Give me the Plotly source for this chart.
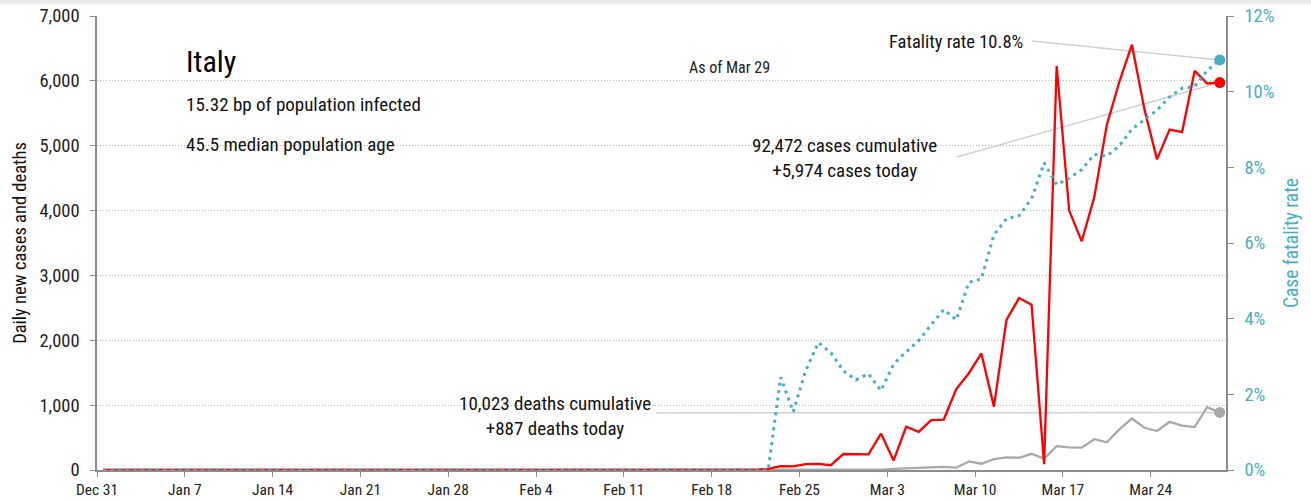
import pandas as pd
import plotly.graph_objects as go

# one value per day, Dec 31 2019 .. Mar 29 2020 (points sit at noon of each day)
days = pd.date_range("2019-12-31 12:00", "2020-03-29 12:00", freq="D")

# daily new cases
new_cases = [
    0,                                          # Dec 31
    0, 0, 0, 0, 0, 0, 0, 0, 0, 0,               # Jan 1-10
    0, 0, 0, 0, 0, 0, 0, 0, 0, 0,               # Jan 11-20
    0, 0, 0, 0, 0, 0, 0, 0, 0, 0, 2,            # Jan 21-31
    0, 0, 0, 0, 0, 0, 1, 0, 0, 0,               # Feb 1-10
    0, 0, 0, 0, 0, 0, 0, 0, 0, 0, 0,            # Feb 11-21
    17, 59, 55, 92, 94, 74, 247, 238,           # Feb 22-29
    240, 561, 146, 667, 587, 769, 778, 1247, 1492, 1797,   # Mar 1-10
    977, 2313, 2651, 2547, 90, 6230, 4000, 3526, 4207, 5322,  # Mar 11-20
    5986, 6557, 5560, 4789, 5249, 5210, 6153, 5959, 5974,     # Mar 21-29
]

# daily deaths
new_deaths = [
    0,
    0, 0, 0, 0, 0, 0, 0, 0, 0, 0,
    0, 0, 0, 0, 0, 0, 0, 0, 0, 0,
    0, 0, 0, 0, 0, 0, 0, 0, 0, 0, 0,
    0, 0, 0, 0, 0, 0, 0, 0, 0, 0,
    0, 0, 0, 0, 0, 0, 0, 0, 0, 0, 0,
    0, 2, 0, 4, 5, 1, 5, 4,
    8, 5, 18, 27, 28, 41, 49, 36, 133, 97,
    168, 196, 189, 250, 175, 368, 349, 345, 475, 427,
    627, 793, 651, 601, 743, 683, 662, 969, 887,
]

# case fatality rate, %
fatality_rate = [
    0,
    0, 0, 0, 0, 0, 0, 0, 0, 0, 0,
    0, 0, 0, 0, 0, 0, 0, 0, 0, 0,
    0, 0, 0, 0, 0, 0, 0, 0, 0, 0, 0,
    0, 0, 0, 0, 0, 0, 0, 0, 0, 0,
    0, 0, 0, 0, 0, 0, 0, 0, 0, 0, 0,
    0, 2.45, 1.54, 2.63, 3.37, 3.10, 2.62, 2.38,
    2.54, 2.10, 2.80, 3.12, 3.42, 3.84, 4.24, 3.97, 4.96, 5.05,
    6.22, 6.64, 6.72, 7.17, 8.12, 7.54, 7.71, 7.94, 8.34, 8.30,
    8.57, 9.01, 9.26, 9.51, 9.86, 10.09, 10.14, 10.56, 10.84,
]

tick_dates = ["2019-12-31", "2020-01-07", "2020-01-14", "2020-01-21", "2020-01-28",
              "2020-02-04", "2020-02-11", "2020-02-18", "2020-02-25", "2020-03-03",
              "2020-03-10", "2020-03-17", "2020-03-24"]
tick_labels = ["Dec 31", "Jan 7", "Jan 14", "Jan 21", "Jan 28", "Feb 4", "Feb 11",
               "Feb 18", "Feb 25", "Mar 3", "Mar 10", "Mar 17", "Mar 24"]

country = "Italy"
as_of = "Mar 29"
bp_infected = 15.32
median_age = 45.5
total_cases = 92472
total_deaths = 10023

FONT = "Roboto Condensed, Liberation Sans Narrow, Liberation Sans, Arial, sans-serif"
RED = "#ff0000"
GREY = "#a9a9a9"
TEAL = "#4bacc6"
LEADER = "#d0d0d0"
AXIS = "#8c8c8c"

fig = go.Figure()

fig.add_trace(go.Scatter(x=days, y=new_deaths, mode="lines",
                         line=dict(color=GREY, width=2.3), hoverinfo="skip"))
fig.add_trace(go.Scatter(x=days, y=new_cases, mode="lines",
                         line=dict(color=RED, width=2.3), hoverinfo="skip"))
fig.add_trace(go.Scatter(x=days, y=fatality_rate, mode="lines", yaxis="y2",
                         line=dict(color=TEAL, width=3, dash="3px,4.5px"), hoverinfo="skip"))

# end markers
fig.add_trace(go.Scatter(x=[days[-1]], y=[new_deaths[-1]], mode="markers",
                         marker=dict(color=GREY, size=11)))
fig.add_trace(go.Scatter(x=[days[-1]], y=[new_cases[-1]], mode="markers",
                         marker=dict(color=RED, size=11)))
fig.add_trace(go.Scatter(x=[days[-1]], y=[fatality_rate[-1]], mode="markers", yaxis="y2",
                         marker=dict(color=TEAL, size=11)))

# leader lines from the labels to the last points
fig.add_shape(type="line", xref="x", yref="y2", layer="below",
              x0="2020-03-14 13:00", y0=11.34, x1=days[-1], y1=fatality_rate[-1],
              line=dict(color=LEADER, width=1.5))
fig.add_shape(type="line", xref="x", yref="y", layer="below",
              x0="2020-03-08 13:00", y0=4826, x1=days[-1], y1=new_cases[-1],
              line=dict(color=LEADER, width=1.5))
fig.add_shape(type="line", xref="x", yref="y", layer="below",
              x0="2020-02-13 14:00", y0=880, x1=days[-1], y1=new_deaths[-1],
              line=dict(color=LEADER, width=1.5))

# thin grey band along the top edge
fig.add_shape(type="rect", xref="paper", yref="paper", x0=-0.09, x1=1.08,
              y0=1.026, y1=1.04, fillcolor="#ececec", line_width=0, layer="below")

txt = dict(showarrow=False, xref="paper", yref="paper", yanchor="middle")
body = dict(family=FONT, color="#111", size=19)
fig.add_annotation(text=country, x=0.0771, y=0.899, xanchor="left",
                   font=dict(family=FONT, color="#000", size=30), **txt)
fig.add_annotation(text=f"{bp_infected} bp of population infected", x=0.0771, y=0.806,
                   xanchor="left", font=body, **txt)
fig.add_annotation(text=f"{median_age} median population age", x=0.0771, y=0.718,
                   xanchor="left", font=body, **txt)
fig.add_annotation(text=f"As of {as_of}", x=0.560, y=0.886, xanchor="center",
                   font=dict(family=FONT, color="#222", size=16), **txt)
fig.add_annotation(text=f"Fatality rate {fatality_rate[-1]:.1f}%", x=0.822, y=0.943,
                   xanchor="right", font=dict(family=FONT, color="#111", size=18.5), **txt)
fig.add_annotation(text=f"{total_cases:,} cases cumulative<br>+{new_cases[-1]:,} cases today",
                   x=0.662, y=0.687, xanchor="center", align="center", font=body, **txt)
fig.add_annotation(text=f"{total_deaths:,} deaths cumulative<br>+{new_deaths[-1]:,} deaths today",
                   x=0.406, y=0.119, xanchor="center", align="center", font=body, **txt)

fig.update_layout(
    width=1311, height=502,
    margin=dict(l=97, r=85, t=16, b=32, autoexpand=False),
    paper_bgcolor="white", plot_bgcolor="white",
    showlegend=False,
    font=dict(family=FONT, color="#222", size=16),
    xaxis=dict(range=["2019-12-31 00:00", "2020-03-30 00:00"],
               tickvals=tick_dates, ticktext=tick_labels, automargin=False,
               showgrid=False, zeroline=False,
               showline=True, linecolor=AXIS, linewidth=1.5,
               ticks="outside", ticklen=5, tickcolor=AXIS,
               tickfont=dict(size=15.5, color="#222")),
    yaxis=dict(range=[0, 7000], dtick=1000, tickformat=",", automargin=False,
               showgrid=True, gridcolor="#b5b5b5", griddash="1px,2px", gridwidth=1,
               zeroline=False, showline=True, linecolor=AXIS, linewidth=1.5,
               ticks="outside", ticklen=5, tickcolor=AXIS, ticklabelstandoff=7,
               tickfont=dict(size=18.5, color="#222"),
               title=dict(text="Daily new cases and deaths", standoff=8,
                          font=dict(size=18.5, color="#111"))),
    yaxis2=dict(range=[0, 12], dtick=2, ticksuffix="%", overlaying="y", side="right",
                automargin=False, showgrid=False, zeroline=False,
                showline=True, linecolor=AXIS, linewidth=1.5,
                ticks="outside", ticklen=6, tickcolor=AXIS, ticklabelstandoff=7,
                tickfont=dict(size=18.5, color=TEAL),
                title=dict(text="Case fatality rate", standoff=11,
                           font=dict(size=19.4, color=TEAL))),
)

fig.write_html("out.html", config={"displayModeBar": False},
               post_script="document.body.style.margin='0';")
